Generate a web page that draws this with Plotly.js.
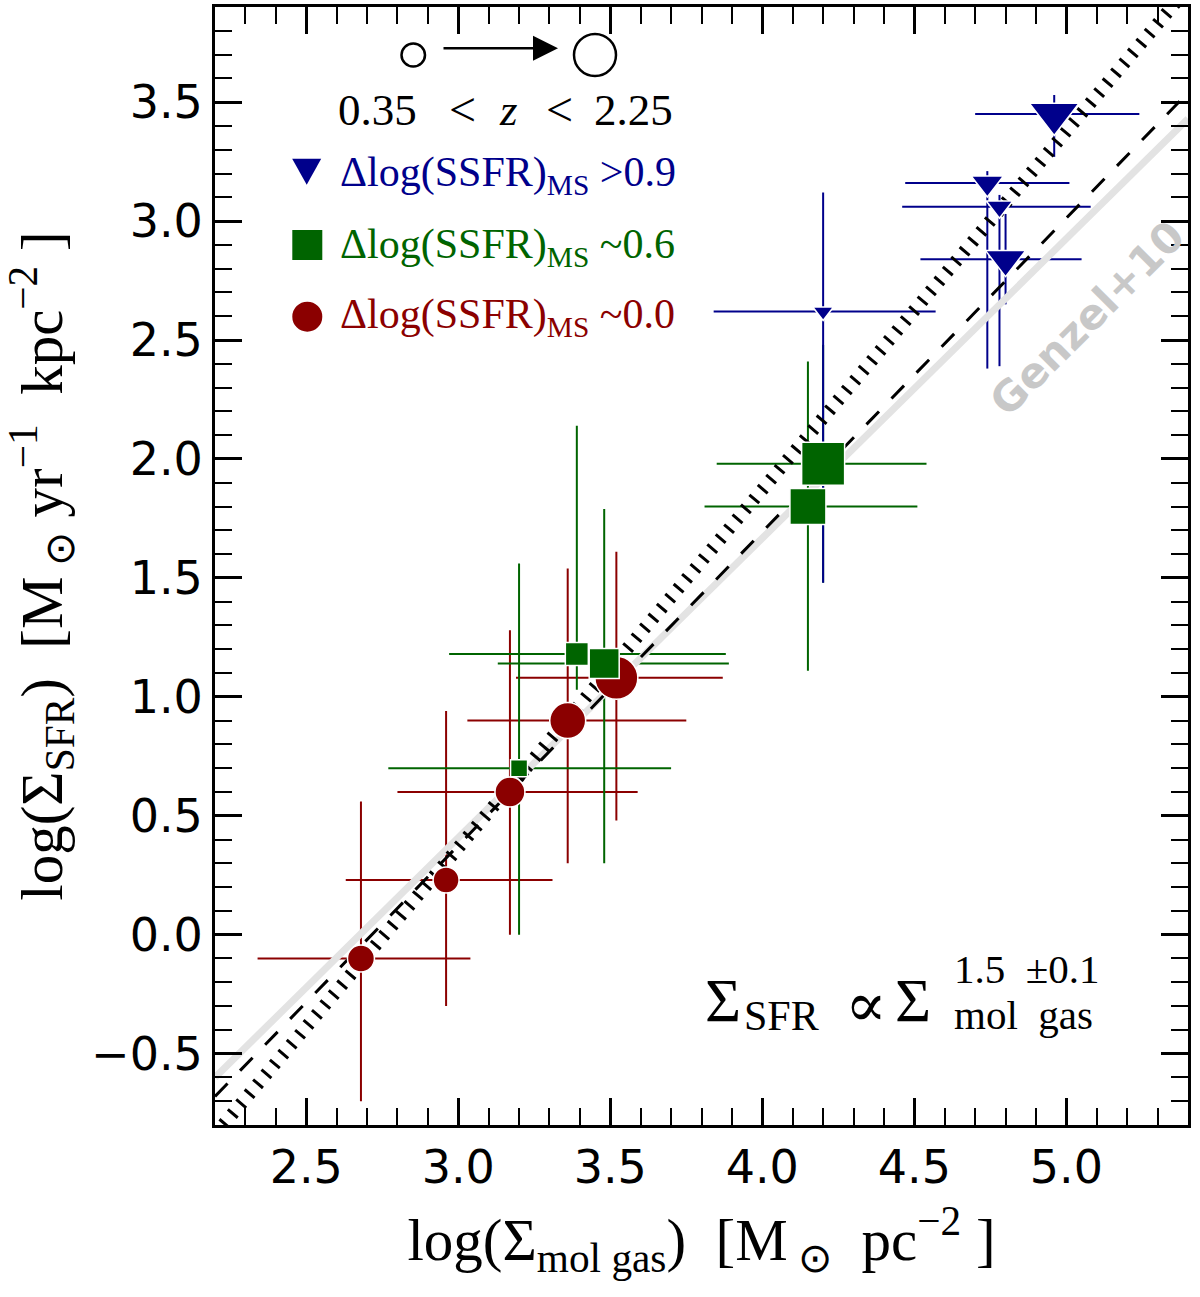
<!DOCTYPE html>
<html>
<head>
<meta charset="utf-8">
<script src="https://cdn.plot.ly/plotly-3.0.1.min.js"></script>
<style>body{margin:0;background:#fff}</style>
</head>
<body>
<div id="chart" style="width:1200px;height:1297px"></div>
<script>
// red circles, dlog(SSFR)_MS ~ 0.0
const redX = [2.68, 2.96, 3.17, 3.36, 3.52];
const redY = [-0.10, 0.23, 0.60, 0.90, 1.08];
const redXLo = [0.34, 0.33, 0.37, 0.33, 0.33];
const redXHi = [0.36, 0.35, 0.42, 0.39, 0.35];
const redYLo = [0.60, 0.53, 0.60, 0.60, 0.60];
const redYHi = [0.66, 0.71, 0.68, 0.64, 0.53];
const redSize = [27, 26, 30, 36, 43];

// green squares, dlog(SSFR)_MS ~ 0.6
const greenX = [3.20, 3.39, 3.48, 4.15, 4.20];
const greenY = [0.70, 1.18, 1.14, 1.80, 1.98];
const greenXLo = [0.43, 0.42, 0.35, 0.34, 0.35];
const greenXHi = [0.50, 0.49, 0.41, 0.36, 0.34];
const greenYLo = [0.70, 0.15, 0.84, 0.69, 0.50];
const greenYHi = [0.86, 0.96, 0.65, 0.61, 0.50];
const greenSize = [17, 23, 30, 36, 43];

// blue triangles, dlog(SSFR)_MS > 0.9
const blueX = [4.20, 4.80, 4.74, 4.78, 4.96];
const blueY = [2.62, 2.84, 3.16, 3.06, 3.45];
const blueXLo = [0.36, 0.28, 0.27, 0.32, 0.26];
const blueXHi = [0.37, 0.25, 0.27, 0.30, 0.28];
const blueYLo = [1.14, 0.19, 0.78, 0.67, 0.18];
const blueYHi = [0.50, 0.19, 0.05, 0.05, 0.08];
const blueSize = [18, 35, 28, 23, 43];

// relations
const lineX = [2.2, 5.4];
const genzelY = [-0.60, 3.43];
const dashedY = [-0.68, 3.54];
const fitY = [-0.84, 3.98];

const RED = "#8b0000", GREEN = "#006400", BLUE = "#00008b";
const SERIF = "Liberation Serif, Times New Roman, serif";

// plot box in pixels
const L = 215, R = 1188, T = 7, B = 1125;
const px = x => (x - L) / (R - L);
const py = y => (B - y) / (B - T);

const errTrace = (x, y, xlo, xhi, ylo, yhi, color) => ({
    x: x, y: y, type: "scatter", mode: "markers",
    marker: {size: 1, opacity: 0},
    error_x: {type: "data", symmetric: false, array: xhi, arrayminus: xlo, color: color, thickness: 2, width: 0},
    error_y: {type: "data", symmetric: false, array: yhi, arrayminus: ylo, color: color, thickness: 2, width: 0},
    hoverinfo: "skip", showlegend: false
});

const markTrace = (x, y, size, symbol, color) => ({
    x: x, y: y, type: "scatter", mode: "markers",
    marker: {size: size, symbol: symbol, color: color, opacity: 1, line: {color: "#fff", width: 1.5}},
    showlegend: false
});

const data = [
    errTrace(redX, redY, redXLo, redXHi, redYLo, redYHi, RED),
    errTrace(greenX, greenY, greenXLo, greenXHi, greenYLo, greenYHi, GREEN),
    errTrace(blueX, blueY, blueXLo, blueXHi, blueYLo, blueYHi, BLUE),
    {x: lineX, y: genzelY, mode: "lines", line: {color: "#e3e3e3", width: 7}, showlegend: false},
    {x: lineX, y: dashedY, mode: "lines", line: {color: "#000", width: 3, dash: "18px,18px"}, showlegend: false},
    {x: lineX, y: fitY, mode: "lines", line: {color: "#000", width: 13, dash: "3px,10px"}, showlegend: false},
    markTrace(redX, redY, redSize, "circle", RED),
    markTrace(greenX, greenY, greenSize, "square", GREEN),
    markTrace(blueX, blueY, blueSize, "triangle-down", BLUE)
];

const axisBase = {
    showgrid: false, zeroline: false,
    showline: true, linewidth: 3, linecolor: "#000", mirror: "ticks",
    ticks: "inside", ticklen: 27, tickwidth: 3, tickcolor: "#000",
    dtick: 0.5, tick0: 0, tickformat: ".1f",
    tickfont: {family: "DejaVu Sans", size: 46, color: "#000"},
    minor: {ticks: "inside", dtick: 0.1, ticklen: 17, tickwidth: 2, tickcolor: "#000"}
};

const sp = "\u00a0";
const note = (txt, x, y, xa, size, color, extra) => Object.assign({
    xref: "paper", yref: "paper", x: px(x), y: py(y), xanchor: xa, yanchor: "middle",
    text: txt, showarrow: false, font: {family: SERIF, size: size, color: color || "#000"}
}, extra || {});
const dlog = "Δlog(SSFR)<sub>MS</sub>" + sp;

const tri = (cx, cy, w, h) =>
    `M${px(cx - w / 2)},${py(cy - h / 2)} L${px(cx + w / 2)},${py(cy - h / 2)} L${px(cx)},${py(cy + h / 2)} Z`;

const layout = {
    width: 1200, height: 1297,
    margin: {l: L, r: 1200 - R, t: T, b: 1297 - B},
    paper_bgcolor: "#fff", plot_bgcolor: "#fff",
    showlegend: false,
    xaxis: Object.assign({}, axisBase, {
        range: [2.2, 5.4],
        title: {text: "log(Σ<sub>mol" + sp + "gas</sub>)" + sp + sp + "[M<sub>" + sp + "⊙</sub>" + sp + sp + "pc<sup>−2</sup>" + sp + "]",
            font: {family: SERIF, size: 59, color: "#000"}, standoff: 26}
    }),
    yaxis: Object.assign({}, axisBase, {
        range: [-0.8, 3.9],
        title: {text: "log(Σ<sub>SFR</sub>)" + sp + sp + "[M<sub>" + sp + "⊙</sub>" + sp + "yr<sup>−1</sup>" + sp + sp + "kpc<sup>−2</sup>" + sp + "]",
            font: {family: SERIF, size: 59, color: "#000"}, standoff: 28}
    }),
    shapes: [
        {type: "circle", xref: "paper", yref: "paper", x0: px(401.5), x1: px(425), y0: py(66.5), y1: py(43.5),
            line: {color: "#000", width: 2.5}},
        {type: "circle", xref: "paper", yref: "paper", x0: px(574), x1: px(616), y0: py(76), y1: py(34),
            line: {color: "#000", width: 2.5}},
        {type: "path", xref: "paper", yref: "paper", path: tri(306.7, 171.7, 29, 26), fillcolor: BLUE, line: {width: 0}},
        {type: "rect", xref: "paper", yref: "paper", x0: px(292.3), x1: px(322.3), y0: py(260), y1: py(230),
            fillcolor: GREEN, line: {width: 0}},
        {type: "circle", xref: "paper", yref: "paper", x0: px(292.3), x1: px(322.3), y0: py(331.7), y1: py(301.7),
            fillcolor: RED, line: {width: 0}}
    ],
    annotations: [
        {xref: "paper", yref: "paper", x: px(558), y: py(48.3), ax: -116, ay: 0, text: "",
            showarrow: true, arrowhead: 2, arrowsize: 2, arrowwidth: 2.5, arrowcolor: "#000"},
        note("0.35", 336, 110, "left", 45),
        note("<", 462, 110, "center", 48),
        note("<i>z</i>", 508, 110, "center", 45),
        note("<", 559, 110, "center", 48),
        note("2.25", 675, 110, "right", 45),
        note(dlog + ">0.9", 338, 175, "left", 42, BLUE),
        note(dlog + "~0.6", 338, 247, "left", 42, GREEN),
        note(dlog + "~0.0", 338, 317, "left", 42, RED),
        note("Genzel+10", 1087, 318, "center", 42, "#c8c8c8",
            {textangle: -45, font: {family: "DejaVu Sans", size: 42, color: "#c8c8c8", weight: "bold"}}),
        note("Σ", 703, 1000, "left", 62),
        note("SFR", 742, 1016, "left", 42),
        note("∝", 866, 1004, "center", 62, "#000", {font: {family: "DejaVu Serif", size: 62, color: "#000"}}),
        note("Σ", 893, 1000, "left", 62),
        note("1.5" + sp + sp + "±0.1", 952, 969, "left", 41),
        note("mol" + sp + sp + "gas", 952, 1015, "left", 41)
    ]
};

Plotly.newPlot("chart", data, layout, {staticPlot: true});
</script>
</body>
</html>
